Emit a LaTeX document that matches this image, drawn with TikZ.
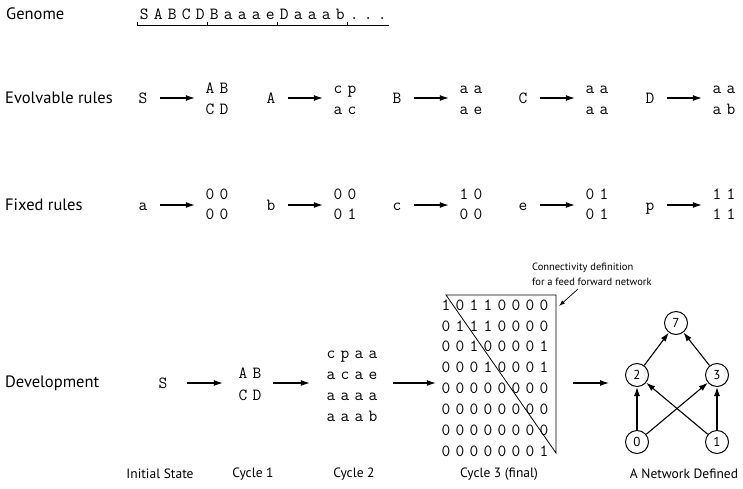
\documentclass[tikz,border=0pt]{standalone}
\usepackage{fontspec}
\setmainfont{PT Sans}
\usetikzlibrary{arrows.meta,calc}
\newcommand\mono[1]{\edef\monotmp{#1}\expandafter\monoA\monotmp\relax}
\def\monoA#1{\ifx#1\relax\else\makebox[14pt]{#1}\expandafter\monoA\fi}
\tikzset{
  lab/.style={font=\fontsize{16.5}{19}\selectfont, anchor=west, inner sep=0pt},
  capt/.style={font=\fontsize{13.5}{16}\selectfont, inner sep=0pt},
  tt/.style={font=\ttfamily\fontsize{17}{19}\selectfont, inner sep=0pt, text height=10.4pt, text depth=0pt},
  arr/.style={-{Latex[length=9pt,width=6pt]}, line width=1.1pt},
  thinarr/.style={-{Latex[length=6pt,width=4pt]}, line width=0.7pt},
  nn/.style={circle, draw, line width=1pt, minimum size=23pt, inner sep=0pt, font=\fontsize{13}{15}\selectfont}
}
\begin{document}
\begin{tikzpicture}[x=1pt,y=-1pt]
\useasboundingbox (0,0) rectangle (743,488);
% row labels
\node[lab] (lgen) at (6,14) {Genome};
\node[lab] (levo) at (5,98) {Evolvable rules};
\node[lab] (lfix) at (5,205) {Fixed rules};
\node[lab] (ldev) at (5,383) {Development};
% genome
\node[tt, anchor=west] (genome) at (137,14) {\mono{SABCDBaaaeDaaab...}};
\draw[line width=0.7pt] ($(genome.south west)+(0,6)$) -- ++(252,0);
\foreach \k in {0,70,140,210}
  \draw[line width=0.7pt] ($(genome.south west)+(\k,6)$) -- ++(0,-3.5);
% evolvable rules
\foreach \i/\x/\s/\ra/\rb in {1/143/S/AB/CD, 2/271/A/cp/ac, 3/397/B/aa/ae, 4/523/C/aa/aa, 5/650/D/aa/ab} {
  \node[tt] (ev\i) at (\x,98) {\mono{\s}};
  \node[tt] (evA\i) at (\x+74,88) {\mono{\ra}};
  \node[tt] (evB\i) at (\x+74,109) {\mono{\rb}};
  \draw[arr] ($(ev\i.east)+(10,0)$) -- ($(evA\i.west |- ev\i.east)+(-8,0)$);
}
% fixed rules
\foreach \i/\x/\s/\ra/\rb in {1/143/a/00/00, 2/271/b/00/01, 3/397/c/10/00, 4/523/e/01/01, 5/650/p/11/11} {
  \node[tt] (fx\i) at (\x,205) {\mono{\s}};
  \node[tt] (fxA\i) at (\x+74,194.5) {\mono{\ra}};
  \node[tt] (fxB\i) at (\x+74,214) {\mono{\rb}};
  \draw[arr] ($(fx\i.east)+(10,0)$) -- ($(fxA\i.west |- fx\i.east)+(-8,0)$);
}
% development
\node[tt] (d0) at (163,383) {\mono{S}};
\node[tt] (d1a) at (250,373) {\mono{AB}};
\node[tt] (d1b) at (250,395) {\mono{CD}};
\foreach \r/\t in {0/cpaa,1/acae,2/aaaa,3/aaab}
  \node[tt] (d2\r) at (352,353+21*\r) {\mono{\t}};
\foreach \r/\t in {0/10110000,1/01110000,2/00100001,3/00010001,4/00000000,5/00000000,6/00000000,7/00000001}
  \node[tt] (m\r) at (495,305+20.86*\r) {\mono{\t}};
\coordinate (triTL) at (446,295);
\coordinate (triTR) at (556,295);
\coordinate (triB) at (556,453);
\draw[line width=0.8pt] (triTL) -- (triTR) -- (triB) -- cycle;
\draw[arr] ($(d0.east)+(17,0)$) -- ($(d1a.west |- d0.east)+(-13,0)$);
\draw[arr] ($(d1a.east |- d0.east)+(9,0)$) -- ($(d20.west |- d0.east)+(-14,0)$);
\draw[arr] ($(d20.east |- d0.east)+(13,0)$) -- ($(m0.west |- d0.east)+(-3,0)$);
% annotation
\node[font=\fontsize{10.5}{15}\selectfont, align=left, anchor=west, inner sep=0pt] (anno) at (532,274.5) {Connectivity definition\\for a feed forward network};
\coordinate (annoTip) at (559,306);
\draw[thinarr] ($(anno.south west)+(46,3)$) -- (annoTip);
% network
\node[nn] (n7) at (676,323) {7};
\node[nn] (n2) at (637,375) {2};
\node[nn] (n3) at (717,375) {3};
\node[nn] (n0) at (637,442) {0};
\node[nn] (n1) at (717,442) {1};
\draw[arr] ($(triTR |- d0.east)+(17,0)$) -- ($(n2.west |- d0.east)+(-16,0)$);
\draw[arr] (n0) -- (n2);
\draw[arr] (n1) -- (n3);
\draw[arr] (n0) -- (n3);
\draw[arr] (n1) -- (n2);
\draw[arr] (n2) -- (n7);
\draw[arr] (n3) -- (n7);
% captions
\node[capt] (c0) at (160,474) {Initial State};
\node[capt] (c1) at (253,474) {Cycle 1};
\node[capt] (c2) at (354,474) {Cycle 2};
\node[capt] (c3) at (499,474) {Cycle 3 (final)};
\node[capt] (c4) at (684,474) {A Network Defined};
\end{tikzpicture}
\end{document}
